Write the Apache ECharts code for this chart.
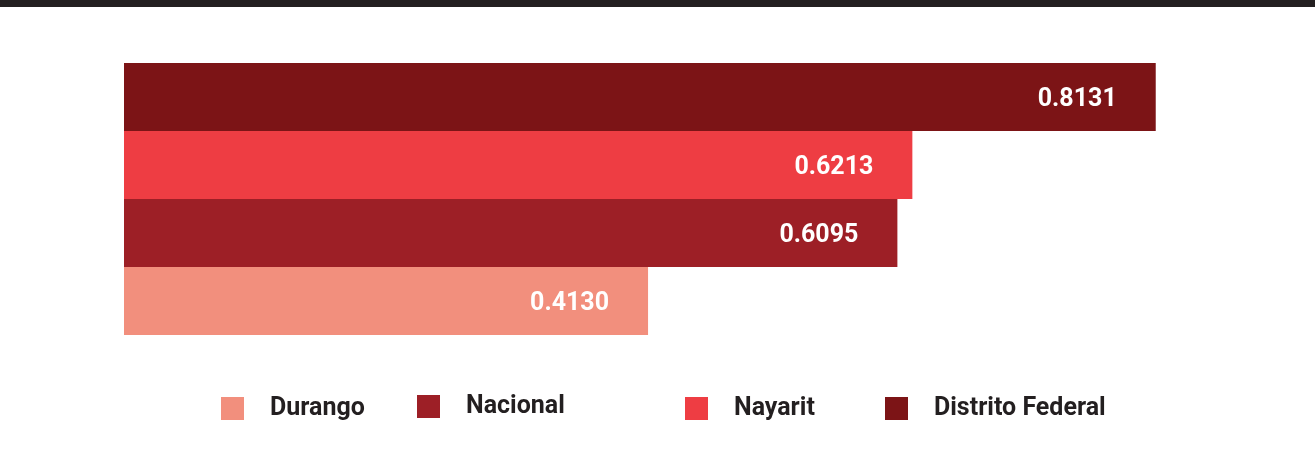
<!DOCTYPE html>
<html>
<head>
<meta charset="utf-8">
<script src="https://cdn.jsdelivr.net/npm/echarts@6/dist/echarts.min.js"></script>
<style>
html,body{margin:0;padding:0;background:#fff;}
#chart{width:1315px;height:471px;}
</style>
</head>
<body>
<div id="chart"></div>
<script>
const categories = ['Durango', 'Nacional', 'Nayarit', 'Distrito Federal'];
const values = [0.4130, 0.6095, 0.6213, 0.8131];
const labels = ['0.4130', '0.6095', '0.6213', '0.8131'];
const colors = ['#f28f7d', '#9d1f26', '#ee3d43', '#7c1416'];
const legendLeft = [221, 417, 685, 885];

const FONT = 'Roboto, "Open Sans", sans-serif';

const series = categories.map((name, i) => ({
  name: name,
  type: 'bar',
  stack: 'all',
  barWidth: 68,
  itemStyle: { color: colors[i] },
  data: categories.map((c, j) => (j === i ? values[i] : '-')),
  label: {
    show: true,
    position: 'insideRight',
    distance: 39,
    offset: [0, 3],
    color: '#ffffff',
    fontFamily: FONT,
    fontWeight: 'bold',
    fontSize: 25,
    formatter: () => labels[i]
  },
  emphasis: { disabled: true }
}));

const legends = categories.map((name, i) => ({
  data: [name],
  left: legendLeft[i],
  top: 394,
  padding: 0,
  itemWidth: 23,
  itemHeight: 23,
  icon: 'rect',
  selectedMode: false,
  textStyle: {
    color: '#231f20',
    fontFamily: FONT,
    fontWeight: 'bold',
    fontSize: 25,
    lineHeight: 23,
    padding: [i === 1 ? 2 : 6, 0, 0, 21]
  }
}));

const chart = echarts.init(document.getElementById('chart'), null, { renderer: 'canvas' });
chart.setOption({
  animation: false,
  backgroundColor: '#ffffff',
  graphic: [{
    type: 'rect',
    left: 0, top: 0,
    shape: { x: 0, y: 0, width: 1315, height: 7 },
    style: { fill: '#231f20' }
  }],
  legend: legends,
  grid: { left: 124, right: 49, top: 63, height: 272, containLabel: false },
  xAxis: {
    type: 'value', min: 0, max: 0.9,
    show: false
  },
  yAxis: {
    type: 'category', data: categories,
    show: false
  },
  series: series
});
</script>
</body>
</html>
